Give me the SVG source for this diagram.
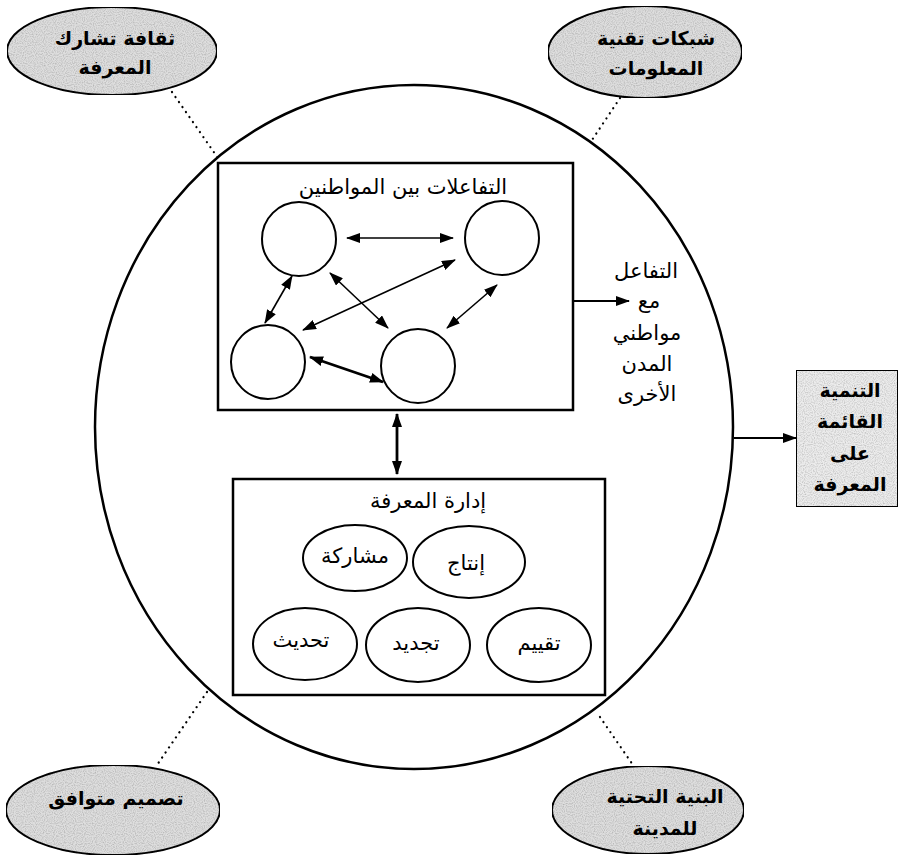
<svg xmlns="http://www.w3.org/2000/svg" width="901" height="856" viewBox="0 0 901 856">
<style>
  .bg { fill: #ffffff; }
  .line { fill: none; stroke: #000; stroke-width: 2.5; }
  .box { fill: #fff; stroke: #000; stroke-width: 2.5; }
  .node { fill: #fff; stroke: #000; stroke-width: 2; }
  .gray { fill: #dedede; stroke: #000; stroke-width: 2; }
  .grayrect { fill: #ececec; stroke: #000; stroke-width: 2; }
  .dot { fill: none; stroke: #000; stroke-width: 2.2; stroke-dasharray: 0.1 6; stroke-linecap: round; }
  .arr { fill: none; stroke: #000; stroke-width: 1.6; marker-start: url(#ah); marker-end: url(#ah); }
  .arrb { fill: none; stroke: #000; stroke-width: 2.8; marker-start: url(#ah); marker-end: url(#ah); }
  .arr1 { fill: none; stroke: #000; stroke-width: 2.2; marker-end: url(#ah); }
  text { font-family: "DejaVu Sans", "Noto Sans", sans-serif; fill: #000; text-anchor: middle; }
  .t { font-size: 21px; }
  .tb { font-size: 19px; font-weight: bold; }
</style>
<defs>
  <marker id="ah" viewBox="0 0 14 10" refX="13" refY="5" markerWidth="14" markerHeight="10" markerUnits="userSpaceOnUse" orient="auto-start-reverse">
    <path d="M0,0 L14,5 L0,10 Z" fill="#000"/>
  </marker>
  <filter id="noise" x="0" y="0" width="1" height="1">
    <feTurbulence type="fractalNoise" baseFrequency="0.9" numOctaves="1" seed="3" result="n"/>
    <feColorMatrix in="n" type="matrix" values="0 0 0 0 0  0 0 0 0 0  0 0 0 0 0  0 0 0 -1.4 0.85" result="a"/>
    <feComposite in="a" in2="SourceGraphic" operator="in" result="d"/>
    <feComponentTransfer in="d" result="d2"><feFuncA type="linear" slope="0.6"/></feComponentTransfer>
    <feMerge><feMergeNode in="SourceGraphic"/><feMergeNode in="d2"/></feMerge>
  </filter>
</defs>
<rect class="bg" x="0" y="0" width="901" height="856"/>

<g id="city">
  <ellipse class="line" cx="414" cy="427" rx="319" ry="342"/>
</g>

<g id="interactions">
  <rect class="box" x="218" y="163" width="355" height="247"/>
  <text class="t" x="403" y="194">التفاعلات بين المواطنين</text>
</g>
<g id="citizen1"><circle class="node" cx="299" cy="239" r="37"/></g>
<g id="citizen2"><circle class="node" cx="502" cy="238" r="37"/></g>
<g id="citizen3"><circle class="node" cx="268" cy="362" r="37"/></g>
<g id="citizen4"><circle class="node" cx="418" cy="366" r="37"/></g>

<g id="other-cities">
  <text class="t" x="646" y="278">التفاعل</text>
  <text class="t" x="649" y="308">مع</text>
  <text class="t" x="647" y="340">مواطني</text>
  <text class="t" x="647" y="371">المدن</text>
  <text class="t" x="647" y="401">الأخرى</text>
</g>

<g id="knowledge-management">
  <rect class="box" x="233" y="479" width="372" height="216"/>
  <text class="t" x="428" y="508">إدارة المعرفة</text>
</g>
<g id="sharing"><ellipse class="node" cx="355" cy="558" rx="52" ry="33"/><text class="t" x="355" y="563">مشاركة</text></g>
<g id="production"><ellipse class="node" cx="469" cy="562" rx="56" ry="36"/><text class="t" x="466" y="570">إنتاج</text></g>
<g id="updating"><ellipse class="node" cx="305" cy="644" rx="52" ry="36"/><text class="t" x="301" y="647">تحديث</text></g>
<g id="renewal"><ellipse class="node" cx="418" cy="645" rx="52" ry="37"/><text class="t" x="416" y="650">تجديد</text></g>
<g id="evaluation"><ellipse class="node" cx="539" cy="645" rx="52" ry="37"/><text class="t" x="539" y="650">تقييم</text></g>

<g id="outcome">
  <rect class="grayrect" x="796" y="370" width="102" height="137" filter="url(#noise)"/>
  <text class="tb" x="850" y="397">التنمية</text>
  <text class="tb" x="850" y="428">القائمة</text>
  <text class="tb" x="850" y="460">على</text>
  <text class="tb" x="850" y="491">المعرفة</text>
</g>

<g id="culture">
  <ellipse class="gray" cx="112" cy="51" rx="105" ry="44" filter="url(#noise)"/>
  <text class="tb" x="115" y="45">ثقافة تشارك</text>
  <text class="tb" x="115" y="74">المعرفة</text>
</g>
<g id="it-networks">
  <ellipse class="gray" cx="645" cy="52" rx="97" ry="46" filter="url(#noise)"/>
  <text class="tb" x="656" y="45">شبكات تقنية</text>
  <text class="tb" x="656" y="75">المعلومات</text>
</g>
<g id="design">
  <ellipse class="gray" cx="113" cy="810" rx="107" ry="45" filter="url(#noise)"/>
  <text class="tb" x="116" y="805">تصميم متوافق</text>
</g>
<g id="infrastructure">
  <ellipse class="gray" cx="648" cy="810" rx="96" ry="44" filter="url(#noise)"/>
  <text class="tb" x="665" y="803">البنية التحتية</text>
  <text class="tb" x="665" y="835">للمدينة</text>
</g>

<g id="connectors">
  <line class="dot" x1="172" y1="92" x2="218" y2="158"/>
  <line class="dot" x1="620" y1="98" x2="592" y2="140"/>
  <line class="dot" x1="207" y1="692" x2="157" y2="765"/>
  <line class="dot" x1="600" y1="717" x2="633" y2="765"/>
  <line class="arr" x1="347" y1="238" x2="453" y2="238"/>
  <line class="arr" x1="330" y1="273" x2="388" y2="328"/>
  <line class="arr" x1="303" y1="330" x2="455" y2="260"/>
  <line class="arr" x1="292" y1="276" x2="265" y2="323"/>
  <line class="arr" x1="497" y1="285" x2="447" y2="328"/>
  <line class="arrb" x1="310" y1="357" x2="383" y2="382"/>
  <line class="arrb" x1="397" y1="414" x2="397" y2="474"/>
  <line class="arr1" x1="573" y1="301" x2="629" y2="301"/>
  <line class="arr1" x1="734" y1="438" x2="796" y2="438"/>
</g>
</svg>
